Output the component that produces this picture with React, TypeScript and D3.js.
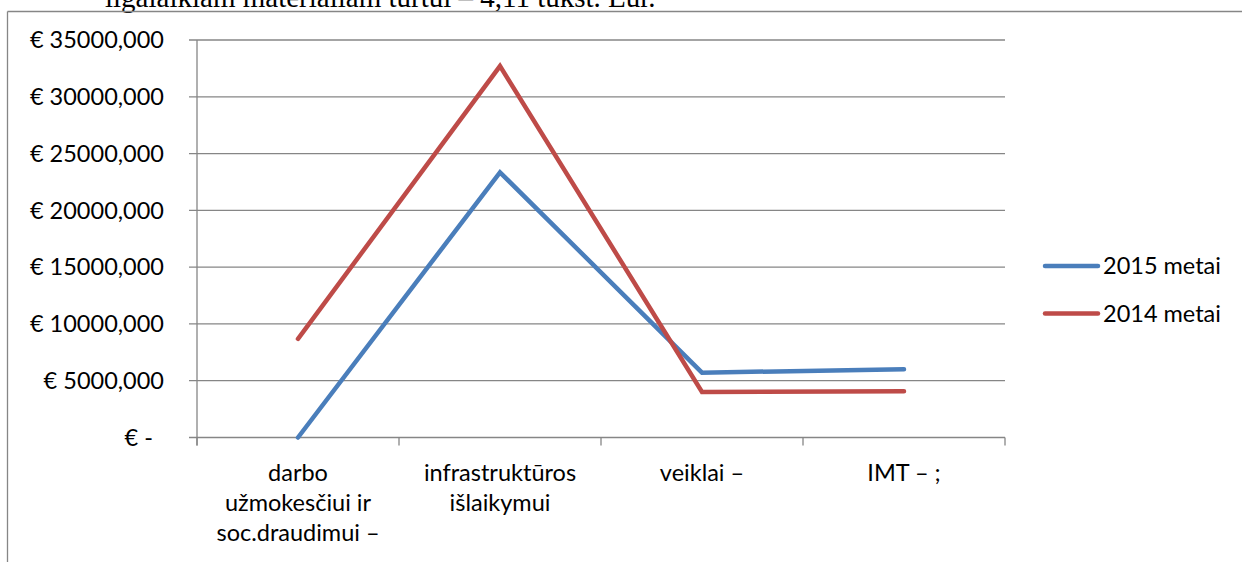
import React from "react";
import * as d3 from "d3";

const categories = [
  "darbo\nužmokesčiui ir\nsoc.draudimui –",
  "infrastruktūros\nišlaikymui",
  "veiklai –",
  "IMT – ;",
];
const series2015 = [0, 23350, 5710, 6010];
const series2014 = [8690, 32700, 4010, 4070];
const seriesNames = ["2015 metai", "2014 metai"];
const seriesColors = ["#4A7EBB", "#BE4B48"];
const yTicks = [0, 5000, 10000, 15000, 20000, 25000, 30000, 35000];
const yTickLabels = ["€ -", "€ 5000,000", "€ 10000,000", "€ 15000,000", "€ 20000,000", "€ 25000,000", "€ 30000,000", "€ 35000,000"];
const headerText = "ilgalaikiam materialiam turtui – 4,11 tukst. Eur.";

const W = 1242;
const H = 562;
const left = 197;
const right = 1005;
const top = 40;
const bottom = 437.5;
const grid = "#868686";
const font = "Lato, 'Open Sans', sans-serif";
const fs = 23.5;

export default function App() {
  const x = d3.scalePoint<string>().domain(categories).range([left, right]).padding(0.5);
  const y = d3.scaleLinear().domain([0, 35000]).range([bottom, top]);
  const line = d3
    .line<number>()
    .x((_, i) => x(categories[i]) as number)
    .y((d) => y(d));
  const data = [series2015, series2014];
  const step = x.step();
  const boundaries = d3.range(categories.length + 1).map((i) => left + i * step);

  return (
    <svg
      width={W}
      height={H}
      style={{ position: "absolute", left: 0, top: 0, background: "#fff" }}
      fontFamily={font}
    >
      <text x={105} y={7} fontFamily="'Liberation Serif', serif" fontSize={29} fill="#000">
        {headerText}
      </text>
      <line x1={7.5} y1={11.5} x2={W} y2={11.5} stroke={grid} strokeWidth={1.3} />
      <line x1={7.5} y1={11.5} x2={7.5} y2={H} stroke={grid} strokeWidth={1.3} />

      {yTicks.map((t, i) => (
        <g key={t}>
          <line x1={189} x2={right} y1={y(t)} y2={y(t)} stroke={grid} strokeWidth={1.3} />
          <text
            x={t === 0 ? 153 : 164}
            y={y(t)}
            dy="0.35em"
            textAnchor="end"
            fontSize={fs}
            fill="#000"
          >
            {yTickLabels[i]}
          </text>
        </g>
      ))}
      <line x1={left} x2={left} y1={top} y2={bottom + 8} stroke={grid} strokeWidth={1.3} />
      {boundaries.map((b, i) => (
        <line key={i} x1={b} x2={b} y1={bottom} y2={bottom + 8} stroke={grid} strokeWidth={1.3} />
      ))}
      {categories.map((c) => (
        <text key={c} x={x(c)} y={473} textAnchor="middle" fontSize={fs} fill="#000">
          {c.split("\n").map((l, j) => (
            <tspan key={j} x={x(c)} dy={j === 0 ? "0.35em" : 30}>
              {l}
            </tspan>
          ))}
        </text>
      ))}

      {data.map((s, i) => (
        <path
          key={i}
          d={line(s) as string}
          fill="none"
          stroke={seriesColors[i]}
          strokeWidth={4.5}
          strokeLinejoin="miter"
          strokeLinecap="round"
        />
      ))}

      {seriesNames.map((n, i) => (
        <g key={n}>
          <line
            x1={1045}
            x2={1098}
            y1={266 + i * 47.5}
            y2={266 + i * 47.5}
            stroke={seriesColors[i]}
            strokeWidth={4.5}
            strokeLinecap="round"
          />
          <text x={1103} y={266 + i * 47.5} dy="0.35em" fontSize={fs} fill="#000">
            {n}
          </text>
        </g>
      ))}
    </svg>
  );
}
